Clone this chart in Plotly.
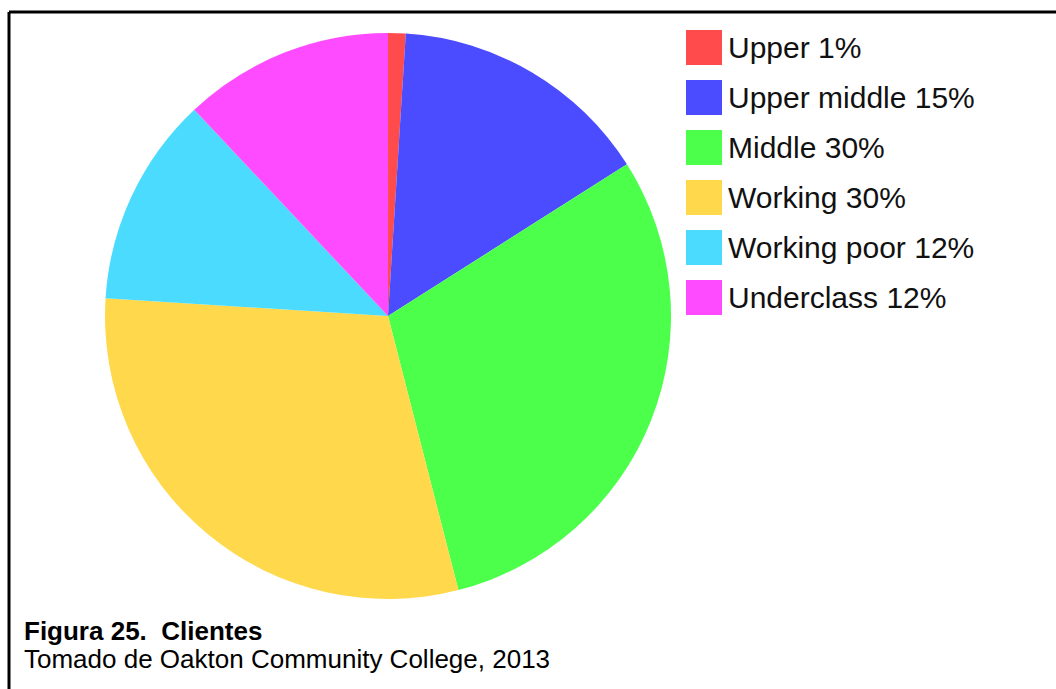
import plotly.graph_objects as go

labels = ["Upper", "Upper middle", "Middle", "Working", "Working poor", "Underclass"]
values = [1, 15, 30, 30, 12, 12]
colors = ["#FF4B4B", "#4B4BFF", "#4BFF4B", "#FFD84B", "#4BDBFF", "#FF4BFF"]
caption_title = "Figura 25.  Clientes"
caption_source = "Tomado de Oakton Community College, 2013"

W, H = 1056, 689
FONT = "Liberation Sans, Arial, sans-serif"

fig = go.Figure()
fig.add_trace(go.Pie(
    labels=labels, values=values, sort=False, direction="clockwise", rotation=0,
    marker=dict(colors=colors, line=dict(width=0)),
    textinfo="none", hoverinfo="label+percent", showlegend=False,
    domain=dict(x=[105 / W, 671 / W], y=[1 - 599 / H, 1 - 33 / H]),
))

shapes = []
annotations = []
# manual legend
for i, (lab, val, col) in enumerate(zip(labels, values, colors)):
    cy = 47.5 + 50 * i
    shapes.append(dict(type="rect", xref="paper", yref="paper",
                       x0=686 / W, x1=722 / W, y0=1 - (cy + 17.5) / H, y1=1 - (cy - 17.5) / H,
                       fillcolor=col, line=dict(width=0)))
    annotations.append(dict(xref="paper", yref="paper", x=726 / W, y=1 - cy / H,
                            xanchor="left", yanchor="middle", showarrow=False,
                            text=f"{lab} {val}%", font=dict(family=FONT, size=30, color="#111111")))

# frame lines
shapes.append(dict(type="line", xref="paper", yref="paper", x0=9 / W, x1=1, y0=1 - 12 / H, y1=1 - 12 / H,
                   line=dict(color="black", width=3)))
shapes.append(dict(type="line", xref="paper", yref="paper", x0=9 / W, x1=9 / W, y0=0, y1=1 - 12 / H,
                   line=dict(color="black", width=3)))

annotations.append(dict(xref="paper", yref="paper", x=22 / W, y=1 - 631 / H, xanchor="left", yanchor="middle",
                        showarrow=False, text=f"<b>{caption_title}</b>",
                        font=dict(family=FONT, size=26, color="black")))
annotations.append(dict(xref="paper", yref="paper", x=22 / W, y=1 - 659 / H, xanchor="left", yanchor="middle",
                        showarrow=False, text=caption_source,
                        font=dict(family=FONT, size=26, color="black")))

fig.update_layout(width=W, height=H, margin=dict(l=0, r=0, t=0, b=0),
                  paper_bgcolor="white", plot_bgcolor="white",
                  shapes=shapes, annotations=annotations)
fig.write_html("out.html")
